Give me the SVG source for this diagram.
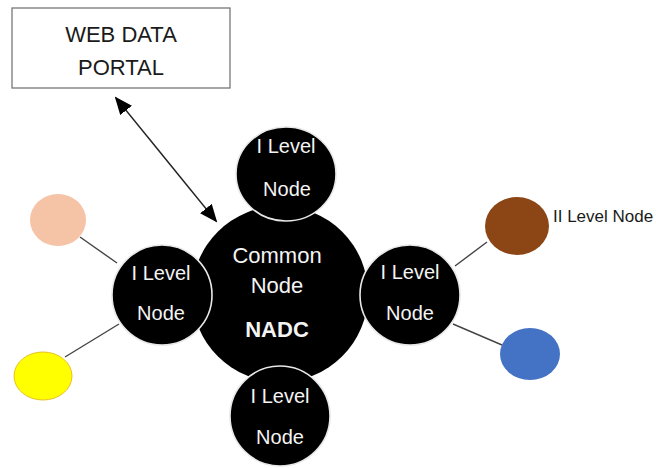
<svg xmlns="http://www.w3.org/2000/svg" width="656" height="468" viewBox="0 0 656 468">
<style>
.lbl{font-family:"Liberation Sans",Arial,sans-serif;text-anchor:middle}
.w{fill:#f4f4f4;font-size:20px}
.l1{fill:#000;stroke:#e8e8e8;stroke-width:1.6}
.con{stroke:#444;stroke-width:1.4;fill:none}
</style>
<defs>
<marker id="ah" markerUnits="userSpaceOnUse" markerWidth="18" markerHeight="15" refX="16" refY="7.5" orient="auto-start-reverse" viewBox="0 0 18 15">
<path d="M0,0 L18,7.5 L0,15 z" fill="#000"/>
</marker>
</defs>
<rect width="656" height="468" fill="#ffffff"/>
<g id="connectors">
<line class="con" x1="80" y1="237" x2="117" y2="263"/>
<line class="con" x1="65" y1="357" x2="119" y2="324"/>
<line class="con" x1="487" y1="242" x2="455" y2="266"/>
<line class="con" x1="502" y1="345" x2="453" y2="324" stroke="#666" stroke-width="1"/>
<line x1="116" y1="98" x2="216" y2="221" stroke="#222" stroke-width="1.4" marker-start="url(#ah)" marker-end="url(#ah)"/>
</g>
<g id="portal">
<rect x="12" y="8" width="218" height="80" fill="#fff" stroke="#777" stroke-width="1.3"/>
<text class="lbl" x="121" y="42" font-size="22" fill="#1a1a1a">WEB DATA</text>
<text class="lbl" x="121" y="75" font-size="22" fill="#1a1a1a">PORTAL</text>
</g>
<g id="common">
<circle cx="280" cy="294" r="88" fill="#000"/>
<text class="lbl w" x="277" y="263" style="font-size:22px">Common</text>
<text class="lbl w" x="277" y="293" style="font-size:22px">Node</text>
<text class="lbl w" x="277" y="337" font-weight="bold" style="font-size:22px">NADC</text>
</g>
<g id="l1-top">
<ellipse class="l1" cx="286" cy="174" rx="50" ry="47"/>
<text class="lbl w" x="286" y="153">I Level</text>
<text class="lbl w" x="287" y="196">Node</text>
</g>
<g id="l1-right">
<circle class="l1" cx="410" cy="295" r="50"/>
<text class="lbl w" x="410" y="279">I Level</text>
<text class="lbl w" x="410" y="320">Node</text>
</g>
<g id="l1-bottom">
<circle class="l1" cx="280" cy="416" r="50"/>
<text class="lbl w" x="280" y="403">I Level</text>
<text class="lbl w" x="280" y="444">Node</text>
</g>
<g id="l1-left">
<circle class="l1" cx="162" cy="295" r="50"/>
<text class="lbl w" x="161" y="280">I Level</text>
<text class="lbl w" x="161" y="320">Node</text>
</g>
<g id="l2-peach">
<ellipse cx="58" cy="220" rx="28" ry="26" fill="#F5C3A5"/>
</g>
<g id="l2-yellow">
<ellipse cx="43" cy="376" rx="29" ry="24" fill="#FFFF00" stroke="#E8C020" stroke-width="1"/>
</g>
<g id="l2-brown">
<ellipse cx="517" cy="226" rx="32" ry="29" fill="#8C4615"/>
<text x="553" y="222" font-family="'Liberation Sans',Arial,sans-serif" font-size="17" fill="#1a1a1a">II Level Node</text>
</g>
<g id="l2-blue">
<ellipse cx="530" cy="354" rx="30" ry="26" fill="#4472C4"/>
</g>
</svg>
